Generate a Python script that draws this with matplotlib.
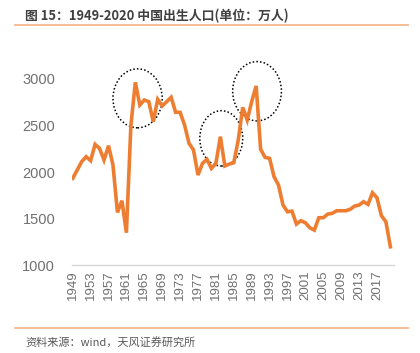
import matplotlib
matplotlib.use("Agg")
import matplotlib.pyplot as plt
from matplotlib.patches import Ellipse
from matplotlib.lines import Line2D

plt.rcParams['font.family'] = ['Liberation Sans', 'Noto Sans CJK SC', 'DejaVu Sans']

# data (万人)
years = list(range(1949, 2021))
births = [1932, 2021, 2111, 2165, 2122, 2297, 2254, 2129, 2283, 2075,
          1566, 1692, 1348, 2500, 2964, 2720, 2774, 2756, 2541, 2781,
          2710, 2756, 2803, 2642, 2642, 2505, 2308, 2237, 1968, 2093,
          2136, 2039, 2093, 2380, 2065, 2086, 2100, 2344, 2695, 2559,
          2756, 2925, 2244, 2158, 2147, 1950, 1860, 1645, 1573, 1580,
          1441, 1477, 1455, 1401, 1376, 1509, 1509, 1548, 1556, 1584,
          1584, 1584, 1599, 1634, 1645, 1681, 1652, 1777, 1724, 1530,
          1466, 1197]
tick_years = list(range(1949, 2018, 4))
yticks = [1000, 1500, 2000, 2500, 3000]
# highlighted periods: (center year, center value, width years, height)
circles = [(1963.5, 2792, 11.0, 634),
           (1982.2, 2362, 9.6, 595),
           (1990.2, 2868, 10.9, 638)]

title = "图 15：1949-2020 中国出生人口(单位：万人)"
source = "资料来源：wind，天风证券研究所"
orange = '#ED7D31'
gray = '#707070'

fig = plt.figure(figsize=(4.2, 3.53), dpi=100)
ax = fig.add_axes([0.171, 0.249, 0.767, 0.58])

ax.plot(years, births, color=orange, lw=2.6, solid_joinstyle='miter')
for cx, cy, w, h in circles:
    ax.add_patch(Ellipse((cx, cy), w, h, fill=False, ls=(0, (1, 1.4)),
                         lw=1.1, ec='black', clip_on=False))

ax.set_xlim(1948.8, 2020.8)
ax.set_ylim(1000, 3200)
ax.set_yticks(yticks)
ax.set_xticks(tick_years)
ax.set_xticklabels([str(y) for y in tick_years], rotation=90)
ax.tick_params(axis='y', length=0, labelsize=10.5, labelcolor=gray, pad=12)
ax.tick_params(axis='x', length=0, labelsize=9.5, labelcolor=gray, pad=4)
for s in ['top', 'right', 'left']:
    ax.spines[s].set_visible(False)
ax.spines['bottom'].set_color('#d9d9d9')
ax.spines['bottom'].set_linewidth(1)

fig.text(0.06, 0.955, title, fontsize=9.3, color='#404040', fontweight='bold',
         va='center', family=['Noto Sans CJK SC', 'DejaVu Sans'])
fig.add_artist(Line2D([0.036, 0.972], [0.928, 0.928], color='#F4B183', lw=1.2))
fig.add_artist(Line2D([0.036, 0.972], [0.071, 0.071], color='#F4B183', lw=1.2))
fig.text(0.06, 0.03, source, fontsize=8, color='#595959', va='center',
         family=['Noto Sans CJK SC', 'DejaVu Sans'])

fig.savefig('out.png', dpi=100)
